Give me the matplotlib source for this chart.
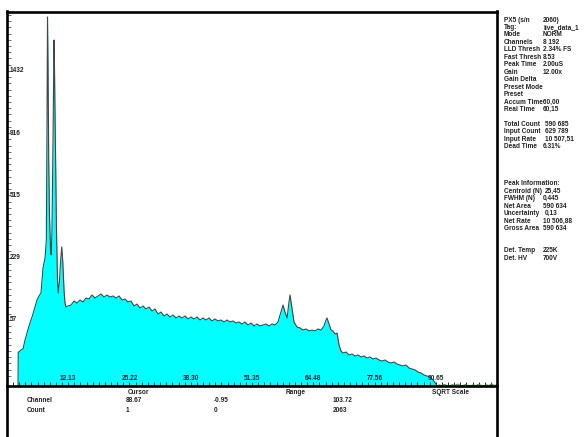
import numpy as np
import matplotlib
matplotlib.use("Agg")
import matplotlib.pyplot as plt
from matplotlib.lines import Line2D

plt.rcParams['font.family'] = ['Liberation Sans', 'DejaVu Sans']

# spectrum (channel in keV-ish units, counts)
channel = [1.40, 1.45, 1.61, 2.04, 2.47, 2.90, 3.32, 3.75, 4.18, 4.60, 5.03, 5.46,
           5.89, 6.31, 6.74, 7.17, 7.45, 7.60, 7.70, 7.81, 7.96, 8.13, 8.34, 8.49,
           8.66, 8.88, 9.09, 9.20, 9.41, 9.62, 9.84, 10.01, 10.27, 10.48, 10.74,
           10.97, 11.23, 11.44, 11.65,
           12.08, 12.72, 13.36, 14.00, 14.65, 15.29, 15.93, 16.57, 17.21, 17.85,
           18.49, 19.13, 19.77, 20.41, 21.05, 21.69, 22.34, 22.98, 23.62, 24.26,
           24.90, 25.54, 26.18, 26.82, 27.46, 28.10, 28.74, 29.39, 30.03, 30.67,
           31.31, 31.95, 32.59, 33.23, 33.87, 34.51, 35.15, 35.79, 36.43, 37.08,
           37.72, 38.36, 39.00, 39.64, 40.28, 40.92, 41.56, 42.20, 42.84, 43.48,
           44.13, 44.77, 45.41, 46.05, 46.69, 47.33, 47.97, 48.61, 49.25, 49.89,
           50.53, 51.18, 51.82, 52.46, 53.10, 53.74, 54.38, 55.02, 55.66, 56.30,
           56.94, 57.58, 58.01, 58.44, 58.87, 59.29, 59.51, 59.93, 60.36, 61.00,
           61.64, 62.28, 62.93, 63.57, 64.21, 64.85, 65.49, 66.13, 66.77, 67.20,
           67.41, 67.84, 68.27, 68.69, 69.12, 69.55, 69.98, 70.40, 70.83, 71.47,
           72.11, 72.75, 73.39, 74.03, 74.67, 75.32, 75.96, 76.60, 77.24, 77.88,
           78.52, 79.16, 79.80, 80.44, 81.08, 81.72, 82.37, 83.01, 83.65, 84.29,
           84.93, 85.57, 86.21, 86.85, 87.49, 88.13, 88.77, 89.41, 90.06, 90.70,
           90.91]
counts = [-0.237, 13.3, 13.3, 15.2, 16.1, 26.1, 35.5, 46.4, 56.9, 68.4, 83.2, 99.5,
          109.5, 117.2, 192.3, 227.6, 298.0, 1016.0, 1972.0, 1534.0, 729.0, 413.0, 266.0, 239.0,
          342.0, 867.0, 1731.0, 1441.0, 796.6, 342.0, 154.0, 117.2, 154.0, 213.0, 270.0,
          213.0, 125.3, 92.4, 83.2,
          85.5, 87.7, 97.1, 92.4, 99.5, 94.7, 104.4, 102.0, 112.0, 104.4,
          109.5, 114.6, 106.9, 112.0, 106.9, 109.5, 104.4, 109.5, 99.5, 102.0,
          94.7, 97.1, 85.5, 90.0, 81.0, 85.5, 78.9, 83.2, 74.6, 78.9,
          68.4, 72.5, 64.5, 68.4, 62.5, 66.4, 60.6, 64.5, 60.6, 64.5,
          58.7, 62.5, 58.7, 62.5, 56.9, 60.6, 56.9, 60.6, 55.1, 58.7,
          55.1, 56.9, 53.3, 56.9, 53.3, 55.1, 51.5, 53.3, 49.8, 53.3,
          48.1, 51.5, 46.4, 49.8, 46.4, 48.1, 49.8, 46.4, 49.8, 48.1,
          53.3, 72.5, 87.7, 72.5, 60.6, 94.7, 112.0, 81.0, 53.3, 44.8,
          43.2, 40.0, 41.6, 38.5, 40.0, 38.5, 41.6, 40.0, 46.4, 56.9,
          60.6, 49.8, 40.0, 38.5, 34.1, 35.5, 20.3, 14.2, 12.4, 13.3,
          10.8, 11.6, 10.0, 10.8, 9.25, 10.0, 8.52, 9.25, 7.83, 8.52,
          7.16, 6.53, 7.16, 5.92, 5.34, 5.92, 4.80, 4.28, 3.79, 4.28,
          2.90, 2.50, 2.13, 1.48, 1.20, 0.73, 0.53, 0.37, 0.06, -0.06,
          -0.237]

# low-level noise past the end of the spectrum
noise_channel = [90.91, 91.4, 91.9, 92.5, 93.0, 93.6, 94.2, 94.7, 95.3, 95.8, 96.4,
                 97.0, 97.5, 98.1, 98.6, 99.2, 99.8, 100.3, 100.9, 101.5, 102.0,
                 102.6, 103.1, 103.6]
noise_counts = [-0.20, -0.12, -0.19, -0.08, -0.17, -0.20, -0.10, -0.18, -0.06, -0.15,
                -0.19, -0.09, -0.16, -0.20, -0.11, -0.18, -0.07, -0.16, -0.20, -0.12,
                -0.18, -0.05, -0.17, -0.13]

x_labels = [12.13, 25.22, 38.30, 51.35, 64.48, 77.56, 90.65]
y_labels = [57, 229, 515, 916, 1432]

info_lines = [
    ("PX5 (s/n", "2060)"), ("Tag:", "live_data_1"), ("Mode", "NORM"),
    ("Channels", "8 192"), ("LLD Thresh", "2.34% FS"), ("Fast Thresh", "8.53"),
    ("Peak Time", "2.00uS"), ("Gain", "12.00x"), ("Gain Delta", ""),
    ("Preset Mode", ""), ("Preset", ""), ("Accum Time60,00", ""),
    ("Real Time", "60,15"), ("", ""),
    ("Total Count", "590 685"), ("Input Count", "629 789"),
    ("Input Rate", "10 507,51"), ("Dead Time", "6.31%"),
    ("", ""), ("", ""), ("", ""), ("", ""),
    ("Peak Information:", ""), ("Centroid (N)", "25,45"), ("FWHM (N)", "0,445"),
    ("Net Area", "590 634"), ("Uncertainty", "0,13"), ("Net Rate", "10 506,88"),
    ("Gross Area", "590 634"), ("", ""), ("", ""),
    ("Det. Temp", "225K"), ("Det. HV", "700V"),
]

W, H = 587, 437
fig = plt.figure(figsize=(W / 100, H / 100), dpi=100)


def fx(px):
    return px / W


def fy(py):
    return 1 - py / H


ax = fig.add_axes([fx(7), fy(386), fx(497) - fx(7), fy(12) - fy(386)])


def fwd(v):
    v = np.asarray(v, dtype=float)
    return np.sign(v) * np.sqrt(np.abs(v))


def inv(s):
    s = np.asarray(s, dtype=float)
    return np.sign(s) * s ** 2


ax.set_yscale('function', functions=(fwd, inv))
ax.set_xlim(-0.95, 103.72)
ax.set_ylim(-0.237, 2026)

ax.fill_between(channel, counts, -0.237, color='#00ffff', linewidth=0)
ax.plot(channel, counts, color='#454545', lw=0.8)
ax.plot(noise_channel, noise_counts, color='#3a9a3a', lw=0.7)

for sp in ax.spines.values():
    sp.set_visible(False)

# ticks
step = (x_labels[-1] - x_labels[0]) / 60
xt = [x_labels[0] + step * k for k in range(-9, 72)]
xt = [v for v in xt if -0.9 < v < 103.7]
ax.set_xticks(xt)
ax.tick_params(axis='x', direction='in', length=3, width=0.7, color='#1a2a4a',
               labelbottom=False)
sstep = np.sqrt(y_labels[-1]) / 50
yt = [inv(sstep * k) for k in range(1, 60) if sstep * k < 45]
ax.set_yticks(yt)
ax.tick_params(axis='y', direction='in', length=3, width=0.7, color='#4a78b8',
               labelleft=False)
ax.minorticks_off()

fs = 4.7
for v in x_labels:
    ax.text(v, 0.02, f"{v:.2f}", transform=ax.get_xaxis_transform(),
            ha='center', va='center', fontsize=fs, fontweight='bold', color='#1a2a3a')
for v in y_labels:
    ax.text(0.006, v, str(v), transform=ax.get_yaxis_transform(),
            ha='left', va='center', fontsize=fs, fontweight='bold', color='#222222')

# frame
lw = 1.9
for (x0, y0, x1, y1) in [(7, 12, 497, 12), (7, 11, 7, 437), (497, 11, 497, 437),
                         (7, 386, 497, 386)]:
    fig.add_artist(Line2D([fx(x0), fx(x1)], [fy(y0), fy(y1)], color='black', lw=lw,
                          transform=fig.transFigure))

# bottom panel
tk = dict(fontsize=fs, fontweight='bold', color='#222222', va='center')
fig.text(fx(138), fy(392), "Cursor", ha='center', **tk)
fig.text(fx(296), fy(392), "Range", ha='center', **tk)
fig.text(fx(450), fy(392), "SQRT Scale", ha='center', **tk)
fig.text(fx(27), fy(400), "Channel", ha='left', **tk)
fig.text(fx(126), fy(400), "88.67", ha='left', **tk)
fig.text(fx(214), fy(400), "-0.95", ha='left', **tk)
fig.text(fx(333), fy(400), "103.72", ha='left', **tk)
fig.text(fx(27), fy(411), "Count", ha='left', **tk)
fig.text(fx(126), fy(411), "1", ha='left', **tk)
fig.text(fx(214), fy(411), "0", ha='left', **tk)
fig.text(fx(333), fy(411), "2063", ha='left', **tk)

# right info panel
y = 20
for label, value in info_lines:
    if label:
        fig.text(fx(504), fy(y), label, ha='left', **tk)
    if value:
        vx = 545 if label in ("Total Count", "Input Count", "Input Rate",
                              "Centroid (N)", "Uncertainty") else 543
        fig.text(fx(vx), fy(y), value, ha='left', **tk)
    y += 7.45

fig.savefig("out.png", dpi=100)
